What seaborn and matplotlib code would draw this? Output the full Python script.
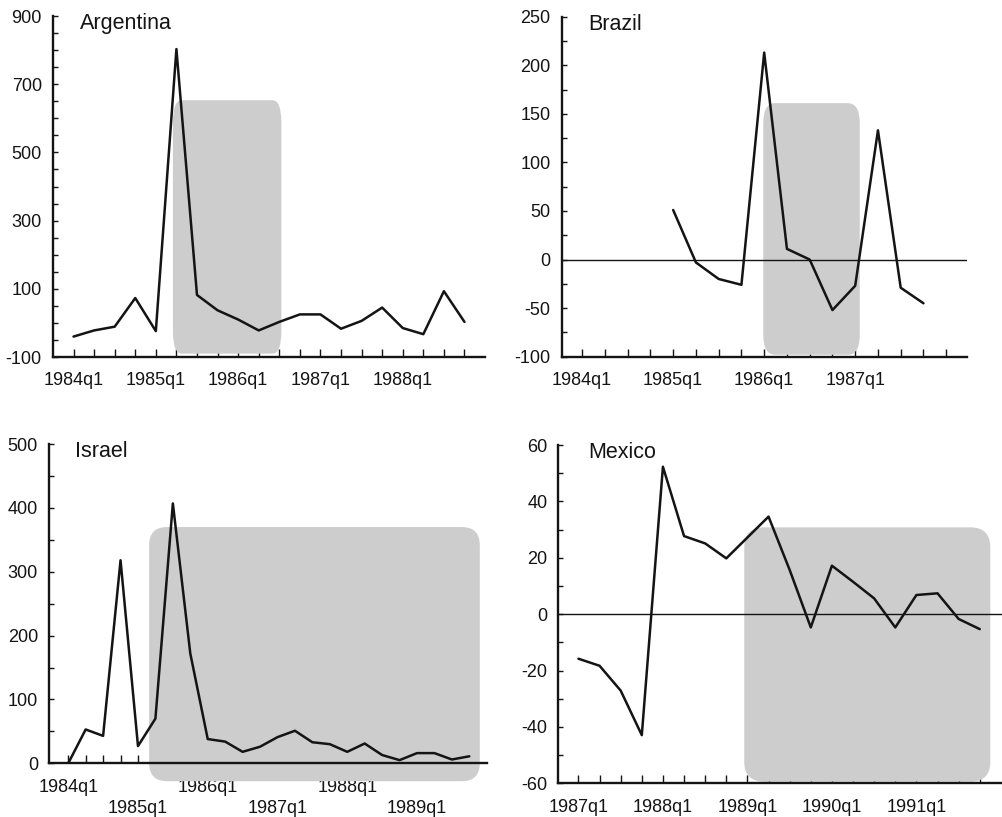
"""Four-panel quarterly chart: Argentina, Brazil, Israel, Mexico with shaded periods."""

import matplotlib
matplotlib.use("Agg")
import matplotlib.pyplot as plt
import numpy as np
import pandas as pd
import seaborn as sns
from matplotlib.patches import FancyBboxPatch
from matplotlib.ticker import MultipleLocator


# data (quarterly values)
ARG_QUARTERS = pd.period_range("1984Q1", "1988Q4", freq="Q")
ARG_VALUES = [-40, -22, -11, 73, -24, 803, 82, 37, 10, -22, 3, 25, 25, -17, 6, 45, -15, -33, 93, 3]

BRA_AXIS_QUARTERS = pd.period_range("1984Q1", "1988Q1", freq="Q")
BRA_QUARTERS = pd.period_range("1985Q1", "1987Q4", freq="Q")
BRA_VALUES = [51, -3, -20, -26, 213, 11, 0, -52, -27, 133, -29, -45]

ISR_QUARTERS = pd.period_range("1984Q1", "1989Q4", freq="Q")
ISR_VALUES = [0, 53, 43, 318, 27, 70, 407, 172, 38, 34, 18, 26, 41, 51, 33, 30, 18, 31, 13, 5, 16, 16, 6, 11]

MEX_QUARTERS = pd.period_range("1987Q1", "1991Q4", freq="Q")
MEX_VALUES = [-15.8, -18.3, -27.1, -42.9, 52.3, 27.7, 25.1, 19.8, 27.2, 34.6, 15.7, -4.7,
              17.2, 11.5, 5.6, -4.7, 6.8, 7.4, -1.7, -5.3]

# shaded periods: (first quarter index, last quarter index, low, high)
ARG_SHADE = (4.83, 10.1, -90, 653)
BRA_SHADE = (7.96, 12.2, -98, 161)
ISR_SHADE = (4.64, 23.6, -28, 370)
MEX_SHADE = (7.85, 19.5, -59.4, 30.8)

INK = "#141414"
SHADE = "#cdcdcd"

sns.set_style("ticks")
plt.rcParams["font.family"] = ["Liberation Sans", "DejaVu Sans"]
plt.rcParams["axes.unicode_minus"] = False
plt.rcParams["xtick.direction"] = "in"
plt.rcParams["ytick.direction"] = "in"


def label(q):
    return f"{q.year}q{q.quarter}"


def rounded_box(ax, box, rx, ry):
    x0, x1, y0, y1 = box
    bb = ax.get_window_extent()
    ux = np.ptp(ax.get_xlim()) / bb.width
    uy = np.ptp(ax.get_ylim()) / bb.height
    r = rx * ux
    patch = FancyBboxPatch((x0, y0), x1 - x0, y1 - y0,
                           boxstyle=f"round,pad=0,rounding_size={r}",
                           mutation_aspect=ry * uy / r, facecolor=SHADE,
                           edgecolor="none", zorder=0.8, clip_on=False)
    ax.add_patch(patch)


def panel(ax, axis_quarters, quarters, values, title, xlim, ylim, yticks, yminor,
          title_xy, zero=False, two_rows=False, last_label=None):
    start = axis_quarters[0]
    xs = [(q - start).n for q in quarters]
    ax.set_xlim(*xlim)
    ax.set_ylim(*ylim)
    if zero:
        ax.axhline(0, color=INK, lw=1.0, zorder=1.2)
    sns.lineplot(x=xs, y=values, ax=ax, color=INK, lw=1.8, zorder=3)
    stop = len(axis_quarters) if last_label is None else last_label + 1
    major = list(range(0, stop, 4))
    labels = [label(axis_quarters[i]) for i in major]
    if two_rows:
        labels = [t if k % 2 == 0 else "\n" + t for k, t in enumerate(labels)]
    ax.set_xticks(major, labels, linespacing=1.3)
    ax.set_xticks(range(len(axis_quarters)), minor=True)
    ax.set_yticks(yticks)
    ax.yaxis.set_minor_locator(MultipleLocator(yminor))
    ax.tick_params(axis="x", which="both", direction="in", length=6, width=1.0,
                   color=INK, pad=11, labelsize=13, labelcolor=INK)
    ax.tick_params(axis="y", which="both", direction="in", length=3.5, width=1.0,
                   color=INK, pad=8, labelsize=13, labelcolor=INK)
    for side in ("top", "right"):
        ax.spines[side].set_visible(False)
    for side in ("left", "bottom"):
        ax.spines[side].set_linewidth(1.7)
        ax.spines[side].set_color(INK)
    ax.text(*title_xy, title, transform=ax.transAxes, fontsize=15.5, color=INK,
            va="center", ha="left")


fig = plt.figure(figsize=(10.03, 8.17), dpi=100)

ax_arg = fig.add_axes([0.0528, 0.563, 0.4308, 0.4174])
panel(ax_arg, ARG_QUARTERS, ARG_QUARTERS, ARG_VALUES, "Argentina", (-1, 20), (-100, 900),
      [-100, 100, 300, 500, 700, 900], 50, (0.0625, 0.977))
rounded_box(ax_arg, ARG_SHADE, 9, 22)

ax_bra = fig.add_axes([0.560, 0.5634, 0.4038, 0.4162])
panel(ax_bra, BRA_AXIS_QUARTERS, BRA_QUARTERS, BRA_VALUES, "Brazil", (-0.9, 16.9), (-100, 250),
      [-100, -50, 0, 50, 100, 150, 200, 250], 25, (0.065, 0.976), zero=True, last_label=12)
rounded_box(ax_bra, BRA_SHADE, 12, 20)

ax_isr = fig.add_axes([0.0489, 0.0657, 0.4364, 0.3908])
panel(ax_isr, ISR_QUARTERS, ISR_QUARTERS, ISR_VALUES, "Israel", (-1.1, 24), (0, 500),
      [0, 100, 200, 300, 400, 500], 50, (0.059, 0.976), two_rows=True)
rounded_box(ax_isr, ISR_SHADE, 18, 18)

ax_mex = fig.add_axes([0.5567, 0.0412, 0.4433, 0.4141])
panel(ax_mex, MEX_QUARTERS, MEX_QUARTERS, MEX_VALUES, "Mexico", (-0.95, 20.1), (-60, 60),
      [-60, -40, -20, 0, 20, 40, 60], 10, (0.0675, 0.978), zero=True)
rounded_box(ax_mex, MEX_SHADE, 20, 20)

fig.savefig("out.png", dpi=100)
